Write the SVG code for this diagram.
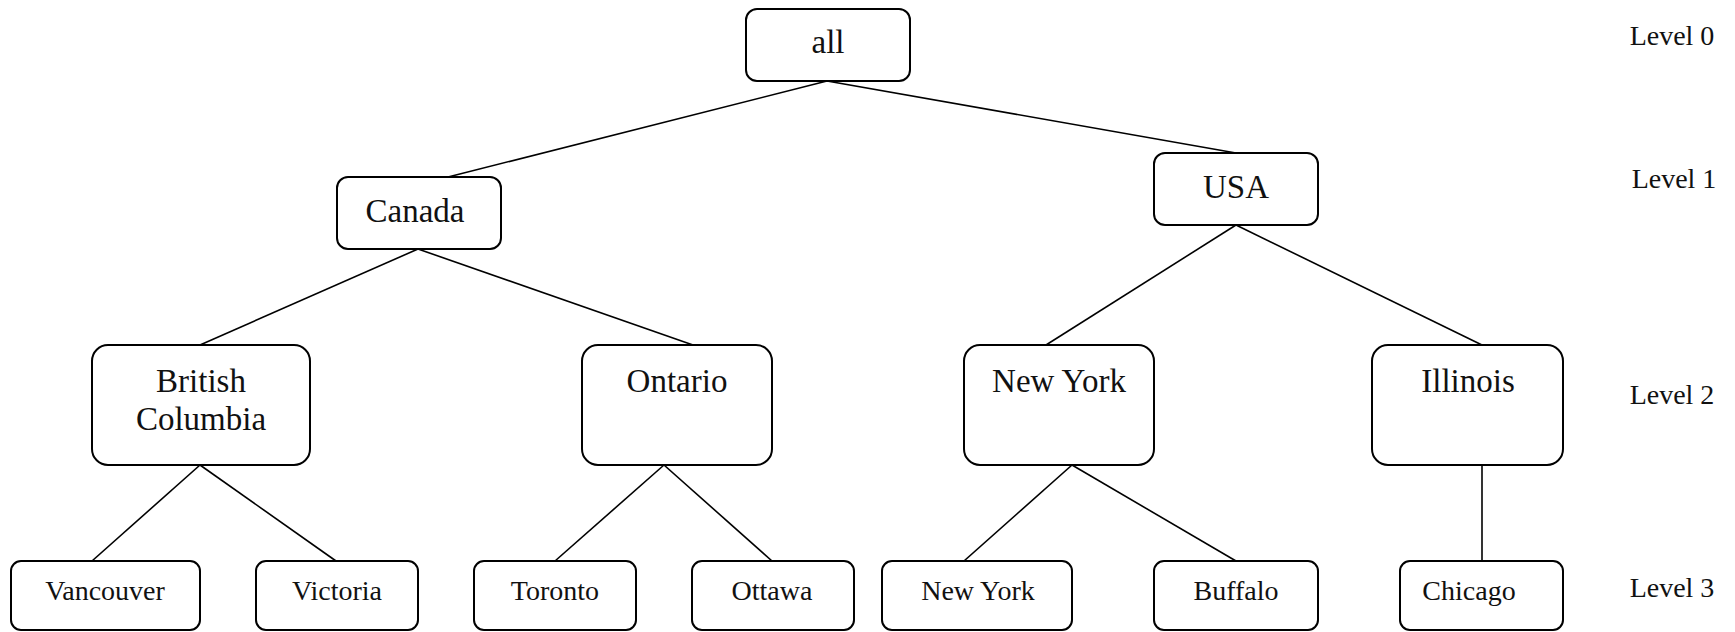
<svg xmlns="http://www.w3.org/2000/svg" width="1735" height="632" viewBox="0 0 1735 632">
<style>
.b{fill:#fff;stroke:#000;stroke-width:2}
.t{font-family:"Liberation Serif","Times New Roman",serif;fill:#111;text-anchor:middle}
.L{font-size:33px}
.S{font-size:28px}
.c line{stroke:#000;stroke-width:1.6}
</style>
<rect width="1735" height="632" fill="#fff"/>
<g class="c" id="connectors">
<line x1="827" y1="81" x2="448" y2="177"/>
<line x1="827" y1="81" x2="1236" y2="153"/>
<line x1="418" y1="249" x2="200" y2="345"/>
<line x1="418" y1="249" x2="693" y2="345"/>
<line x1="1236" y1="225" x2="1046" y2="345"/>
<line x1="1236" y1="225" x2="1482" y2="345"/>
<line x1="200" y1="465" x2="92" y2="561"/>
<line x1="200" y1="465" x2="336" y2="561"/>
<line x1="664" y1="465" x2="555" y2="561"/>
<line x1="664" y1="465" x2="772" y2="561"/>
<line x1="1072" y1="465" x2="964" y2="561"/>
<line x1="1072" y1="465" x2="1236" y2="561"/>
<line x1="1482" y1="465" x2="1482" y2="561"/>
</g>
<g id="all"><rect class="b" x="746" y="9" width="164" height="72" rx="11"/><text class="t L" x="828" y="53">all</text></g>
<g id="canada"><rect class="b" x="337" y="177" width="164" height="72" rx="11"/><text class="t L" x="415" y="222">Canada</text></g>
<g id="usa"><rect class="b" x="1154" y="153" width="164" height="72" rx="11"/><text class="t L" x="1236" y="198">USA</text></g>
<g id="bc"><rect class="b" x="92" y="345" width="218" height="120" rx="16"/><text class="t L" x="201" y="392">British</text><text class="t L" x="201" y="430">Columbia</text></g>
<g id="ontario"><rect class="b" x="582" y="345" width="190" height="120" rx="16"/><text class="t L" x="677" y="392">Ontario</text></g>
<g id="newyork-state"><rect class="b" x="964" y="345" width="190" height="120" rx="16"/><text class="t L" x="1059" y="392">New York</text></g>
<g id="illinois"><rect class="b" x="1372" y="345" width="191" height="120" rx="16"/><text class="t L" x="1468" y="392">Illinois</text></g>
<g id="vancouver"><rect class="b" x="11" y="561" width="189" height="69" rx="10"/><text class="t S" x="105" y="600">Vancouver</text></g>
<g id="victoria"><rect class="b" x="256" y="561" width="162" height="69" rx="10"/><text class="t S" x="337" y="600">Victoria</text></g>
<g id="toronto"><rect class="b" x="474" y="561" width="162" height="69" rx="10"/><text class="t S" x="555" y="600">Toronto</text></g>
<g id="ottawa"><rect class="b" x="692" y="561" width="162" height="69" rx="10"/><text class="t S" x="772" y="600">Ottawa</text></g>
<g id="newyork-city"><rect class="b" x="882" y="561" width="190" height="69" rx="10"/><text class="t S" x="978" y="600">New York</text></g>
<g id="buffalo"><rect class="b" x="1154" y="561" width="164" height="69" rx="10"/><text class="t S" x="1236" y="600">Buffalo</text></g>
<g id="chicago"><rect class="b" x="1400" y="561" width="163" height="69" rx="10"/><text class="t S" x="1469" y="600">Chicago</text></g>
<g id="levels">
<text class="t S" x="1672" y="45">Level 0</text>
<text class="t S" x="1674" y="188">Level 1</text>
<text class="t S" x="1672" y="404">Level 2</text>
<text class="t S" x="1672" y="597">Level 3</text>
</g>
</svg>
